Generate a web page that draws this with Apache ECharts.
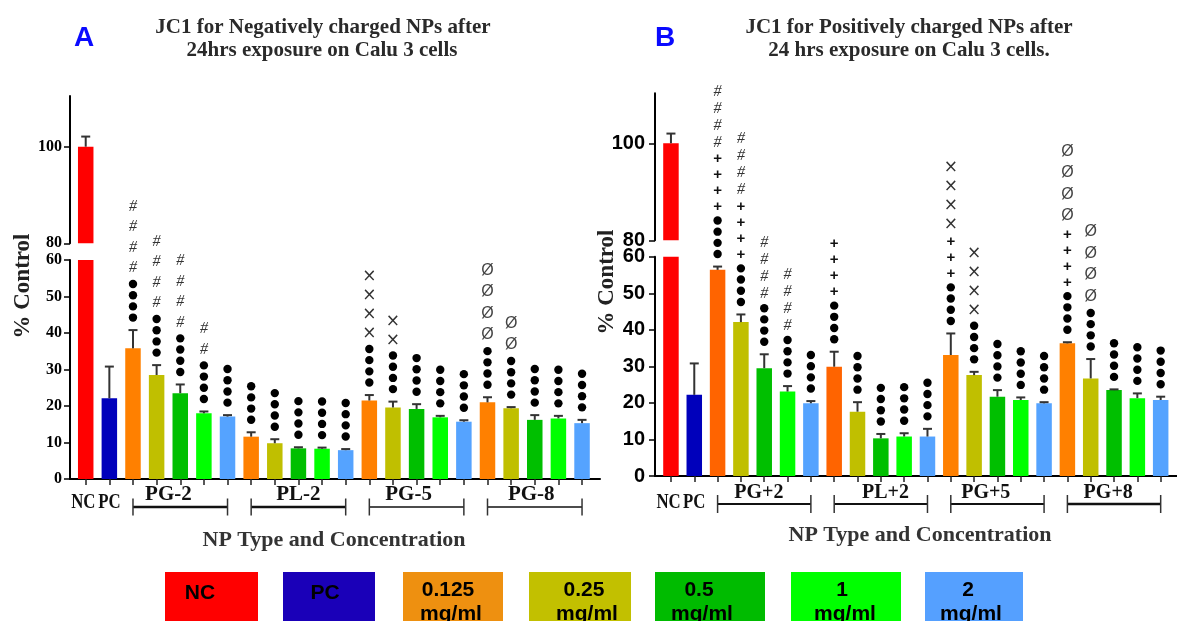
<!DOCTYPE html>
<html><head><meta charset="utf-8">
<script src="https://cdn.jsdelivr.net/npm/echarts@6/dist/echarts.min.js"></script>
<style>html,body{margin:0;padding:0;background:#fff}#c{width:1177px;height:621px}</style>
</head><body><div id="c"></div>
<script>
// ---------------- DATA ----------------
const controlLabels = ['NC', 'PC'];
const concentrations = ['0.125 mg/ml', '0.25 mg/ml', '0.5 mg/ml', '1 mg/ml', '2 mg/ml'];
const groupLabelsA = ['PG-2', 'PL-2', 'PG-5', 'PG-8'];
const groupLabelsB = ['PG+2', 'PL+2', 'PG+5', 'PG+8'];
const titleA = ['JC1 for Negatively charged NPs after', '24hrs exposure on Calu 3 cells'];
const titleB = ['JC1 for Positively charged NPs after', '24 hrs exposure on Calu 3 cells.'];
const xAxisTitle = 'NP Type and Concentration';
const yAxisTitle = '% Control';
const lowerTicks = [0, 10, 20, 30, 40, 50, 60];
const upperTicks = [80, 100];
const legendLabels = ['NC', 'PC', '0.125\nmg/ml', '0.25\nmg/ml', '0.5\nmg/ml', '1\nmg/ml', '2\nmg/ml'];

// Panel A (order: NC, PC, PG-2 x5, PL-2 x5, PG-5 x5, PG-8 x5)
const valuesA = [100, 22.1, 35.8, 28.5, 23.5, 18.0, 17.1, 11.6, 9.8, 8.4, 8.3, 7.9, 21.5, 19.6, 19.2, 16.9, 15.7, 21.0, 19.4, 16.2, 16.6, 15.3];
const errorsA = [2.1, 8.7, 5.0, 2.7, 2.4, 0.5, 0.4, 1.2, 1.1, 0.3, 0.3, 0.3, 1.5, 1.6, 1.3, 0.4, 0.4, 1.4, 0.3, 1.3, 0.7, 0.9];
const dotsA = [0, 0, 4, 4, 4, 4, 4, 4, 4, 4, 4, 4, 4, 4, 4, 4, 4, 4, 4, 4, 4, 4];
const marksA = ['', '', '####', '####', '####', '##', '', '', '', '', '', '', '××××', '××', '', '', '', 'ØØØØ', 'ØØ', '', '', ''];

// Panel B (order: NC, PC, PG+2 x5, PL+2 x5, PG+5 x5, PG+8 x5)
const valuesB = [100, 22.2, 56.4, 42.1, 29.5, 23.1, 19.9, 29.9, 17.6, 10.3, 10.8, 10.8, 33.1, 27.6, 21.7, 20.8, 19.9, 36.3, 26.7, 23.5, 21.3, 20.8];
const errorsB = [2.0, 8.6, 0.9, 2.1, 3.8, 1.5, 0.6, 4.1, 2.6, 1.2, 0.9, 2.1, 5.9, 0.9, 1.8, 0.7, 0.3, 0.3, 5.3, 0.2, 1.3, 0.9];
const dotsB = [0, 0, 4, 4, 4, 4, 4, 4, 4, 4, 4, 4, 4, 4, 4, 4, 4, 4, 4, 4, 4, 4];
const marksB = ['', '', '++++####', '++++####', '####', '####', '', '++++', '', '', '', '', '+++××××', '××××', '', '', '', '++++ØØØØ', 'ØØØØ', '', '', ''];

// ---------------- STYLE / LAYOUT ----------------
const SERIF = '"Liberation Serif","Times New Roman",serif';
const SANS = '"Liberation Sans",Arial,sans-serif';
const NARROW = '"Liberation Sans Narrow","Arial Narrow","Liberation Sans",sans-serif';
const concColorsA = ['#ff8000', '#c0bf00', '#00bf00', '#00ff00', '#55a3ff'];
const concColorsBorange = '#ff6400';
function barColors(isB) {
  const c = ['#ff0000', '#0000bb'];
  for (let g = 0; g < 4; g++) for (let k = 0; k < 5; k++) {
    c.push(k === 0 && isB && g < 2 ? concColorsBorange : concColorsA[k]);
  }
  return c;
}
const legendColors = ['#ff0000', '#1a00b8', '#ee9010', '#c2c000', '#00bb00', '#00ff00', '#55a0ff'];
const legendBoxes = [[165, 258], [283, 375], [403, 503], [529, 631], [655, 765], [791, 901], [925, 1023]];
const legendTextX = [200, 325, 448, 584, 699, 842, 968];

const barIdx = valuesA.map((_, i) => i);

const panels = [
  {
    values: valuesA, errors: errorsA, dots: dotsA, marks: marksA, colors: barColors(false),
    groupLabels: groupLabelsA,
    left: 70, width: 530, xMin: -0.665, xMax: 21.76,
    upperTop: 96, upperH: 147.3, upperMax: 110.5,
    lowerTop: 260, lowerH: 219,
    tickFont: { fontFamily: SERIF, fontWeight: 'bold', fontSize: 16, color: '#000', margin: 8 },
    symH: { dot: 11.2, '#': 20.5, '+': 16, '×': 19, 'Ø': 21.5 },
    bracketDy: 28, bracketEnd: 8.5, bracketW: [2.5, 2.5, 1.5, 1.5],
    labelDy: 16, labelShift: [-0.5, 0, -0.34, -0.15], groupFont: 21,
    ctrlDy: 24, ctrlShift: [-0.1, 0],
  },
  {
    values: valuesB, errors: errorsB, dots: dotsB, marks: marksB, colors: barColors(true),
    groupLabels: groupLabelsB,
    left: 655, width: 529.8, xMin: -0.684, xMax: 21.7,
    upperTop: 93.3, upperH: 147, upperMax: 110.3,
    lowerTop: 256.7, lowerH: 219.3,
    tickFont: { fontFamily: NARROW, fontWeight: 'bold', fontSize: 20, color: '#000', margin: 10 },
    symH: { dot: 11.2, '#': 17, '+': 16, '×': 19, 'Ø': 21.5 },
    bracketDy: 28, bracketEnd: 9, bracketW: [2, 2, 2, 2.5],
    labelDy: 17, labelShift: [-0.23, 0.2, -0.5, -0.25], groupFont: 20,
    ctrlDy: 27, ctrlShift: [-0.1, 0],
  }
];

function drawSym(s, x, y) {
  if (s === 'dot') return { type: 'circle', shape: { cx: x, cy: y, r: 4.2 }, style: { fill: '#000' } };
  const st = { text: s, align: 'center', verticalAlign: 'middle' };
  if (s === '#') Object.assign(st, { fontFamily: SERIF, fontStyle: 'italic', fontSize: 16, fill: '#333' });
  else if (s === '+') Object.assign(st, { fontFamily: SANS, fontWeight: 'bold', fontSize: 15, fill: '#111' });
  else if (s === '×') Object.assign(st, { fontFamily: '"DejaVu Sans",sans-serif', fontSize: 17, fill: '#333' });
  else Object.assign(st, { fontFamily: SANS, fontSize: 16, fill: '#444' });
  return { type: 'text', x: x, y: y, style: st };
}

function annotRenderer(p, part) {
  return function (params, api) {
    const i = api.value(0), v = api.value(1), e = api.value(2);
    if (part === 'lower' && v > 60) return null;
    if (part === 'upper' && v < 80) return null;
    const b = api.coord([i, v]), t = api.coord([i, v + e]);
    const ch = [
      { type: 'line', shape: { x1: b[0], y1: b[1], x2: t[0], y2: t[1] }, style: { stroke: '#333', lineWidth: 2 } },
      { type: 'line', shape: { x1: t[0] - 4.5, y1: t[1], x2: t[0] + 4.5, y2: t[1] }, style: { stroke: '#333', lineWidth: 2 } }
    ];
    const idx = params.dataIndex;
    const seq = [];
    for (let k = 0; k < p.dots[idx]; k++) seq.push('dot');
    for (const c of p.marks[idx]) seq.push(c);
    let y = t[1] - 12.5;
    seq.forEach((s, k) => {
      if (k > 0) y -= (p.symH[seq[k - 1]] + p.symH[s]) / 2;
      ch.push(drawSym(s, t[0], y));
    });
    return { type: 'group', children: ch };
  };
}

function groupRenderer(p) {
  return function (params, api) {
    const k = params.dataIndex;
    const a = api.value(0), bb = api.value(1);
    const s = api.coord([a, 0]), e = api.coord([bb, 0]);
    const y = s[1] + p.bracketDy;
    const lx = api.coord([(a + bb) / 2 + p.labelShift[k], 0])[0];
    return {
      type: 'group', children: [
        { type: 'line', shape: { x1: s[0], y1: y, x2: e[0], y2: y }, style: { stroke: '#111', lineWidth: p.bracketW[k] } },
        { type: 'line', shape: { x1: s[0], y1: y - p.bracketEnd, x2: s[0], y2: y + p.bracketEnd }, style: { stroke: '#333', lineWidth: 1.5 } },
        { type: 'line', shape: { x1: e[0], y1: y - p.bracketEnd, x2: e[0], y2: y + p.bracketEnd }, style: { stroke: '#333', lineWidth: 1.5 } },
        { type: 'text', x: lx, y: s[1] + p.labelDy, style: { text: p.groupLabels[k], fontFamily: SERIF, fontWeight: 'bold', fontSize: p.groupFont, fill: '#111', align: 'center', verticalAlign: 'middle' } }
      ]
    };
  };
}

function ctrlRenderer(p) {
  return function (params, api) {
    const i = params.dataIndex;
    const c = api.coord([api.value(0) + p.ctrlShift[i], 0]);
    return { type: 'text', x: c[0], y: c[1] + p.ctrlDy, scaleX: 0.8,
      style: { text: controlLabels[i], fontFamily: SERIF, fontWeight: 'bold', fontSize: 21, fill: '#111', align: 'center', verticalAlign: 'middle' } };
  };
}

const option = { animation: false, grid: [], xAxis: [], yAxis: [], series: [], graphic: [] };

panels.forEach((p, pi) => {
  const gi = pi * 2;
  option.grid.push(
    { left: p.left, top: p.upperTop, width: p.width, height: p.upperH },
    { left: p.left, top: p.lowerTop, width: p.width, height: p.lowerH }
  );
  option.xAxis.push(
    { type: 'value', gridIndex: gi, min: p.xMin, max: p.xMax, show: false },
    { type: 'value', gridIndex: gi + 1, min: p.xMin, max: p.xMax,
      axisLine: { show: true, onZero: false, lineStyle: { color: '#000', width: 2 } },
      axisTick: { show: true, customValues: barIdx, length: 6, lineStyle: { color: '#222', width: 1.5 } },
      axisLabel: { show: false }, splitLine: { show: false } }
  );
  option.yAxis.push(
    { type: 'value', gridIndex: gi, min: 80, max: p.upperMax,
      axisLine: { show: true, onZero: false, lineStyle: { color: '#000', width: 2 } },
      axisTick: { show: true, customValues: upperTicks, length: 6, lineStyle: { color: '#000', width: 1.5 } },
      axisLabel: Object.assign({ customValues: upperTicks }, p.tickFont), splitLine: { show: false } },
    { type: 'value', gridIndex: gi + 1, min: 0, max: 60,
      axisLine: { show: true, onZero: false, lineStyle: { color: '#000', width: 2 } },
      axisTick: { show: true, customValues: lowerTicks, length: 6, lineStyle: { color: '#000', width: 1.5 } },
      axisLabel: Object.assign({ customValues: lowerTicks }, p.tickFont), splitLine: { show: false } }
  );
  const barData = p.values.map((v, i) => ({ value: [i, v], itemStyle: { color: p.colors[i] } }));
  const errData = p.values.map((v, i) => [i, v, p.errors[i]]);
  const grpData = p.groupLabels.map((g, k) => [2 + 5 * k, 6 + 5 * k]);
  option.series.push(
    { type: 'bar', xAxisIndex: gi, yAxisIndex: gi, data: barData, barWidth: 15.5, clip: true, silent: true },
    { type: 'bar', xAxisIndex: gi + 1, yAxisIndex: gi + 1, data: barData, barWidth: 15.5, clip: true, silent: true },
    { type: 'custom', xAxisIndex: gi, yAxisIndex: gi, data: errData, renderItem: annotRenderer(p, 'upper'), z: 5, silent: true },
    { type: 'custom', xAxisIndex: gi + 1, yAxisIndex: gi + 1, data: errData, renderItem: annotRenderer(p, 'lower'), z: 5, silent: true },
    { type: 'custom', xAxisIndex: gi + 1, yAxisIndex: gi + 1, data: grpData, renderItem: groupRenderer(p), z: 5, silent: true },
    { type: 'custom', xAxisIndex: gi + 1, yAxisIndex: gi + 1, data: [[0, 0], [1, 0]], renderItem: ctrlRenderer(p), z: 5, silent: true }
  );
});

function txt(text, x, y, extra, style) {
  return Object.assign({ type: 'text', x: x, y: y, silent: true,
    style: Object.assign({ text: text, align: 'center', verticalAlign: 'middle', textAlign: 'center', textVerticalAlign: 'middle' }, style) }, extra || {});
}
const titleStyle = { fontFamily: SERIF, fontWeight: 'bold', fontSize: 21, fill: '#2a2a2a' };
option.graphic.push(
  txt('A', 84, 38, null, { fontFamily: SANS, fontWeight: 'bold', fontSize: 28, fill: '#0a0aff' }),
  txt('B', 665, 38, null, { fontFamily: SANS, fontWeight: 'bold', fontSize: 28, fill: '#0a0aff' }),
  txt(titleA[0], 323, 28, null, titleStyle),
  txt(titleA[1], 322, 51, null, titleStyle),
  txt(titleB[0], 909, 28, null, titleStyle),
  txt(titleB[1], 909, 51, null, titleStyle),
  txt(yAxisTitle, 23, 286, { rotation: Math.PI / 2 }, { fontFamily: SERIF, fontWeight: 'bold', fontSize: 23, fill: '#222' }),
  txt(yAxisTitle, 607, 282, { rotation: Math.PI / 2 }, { fontFamily: SERIF, fontWeight: 'bold', fontSize: 23, fill: '#222' }),
  txt(xAxisTitle, 334, 540, null, { fontFamily: SERIF, fontWeight: 'bold', fontSize: 22, fill: '#333' }),
  txt(xAxisTitle, 920, 535, null, { fontFamily: SERIF, fontWeight: 'bold', fontSize: 22, fill: '#333' })
);
legendLabels.forEach((lab, i) => {
  const [x0, x1] = legendBoxes[i];
  option.graphic.push({ type: 'rect', shape: { x: x0, y: 572, width: x1 - x0, height: 60 }, style: { fill: legendColors[i] }, silent: true });
  const lines = lab.split('\n');
  const st = { fontFamily: SANS, fontWeight: 'bold', fontSize: 21, fill: '#000' };
  if (lines.length === 1) {
    option.graphic.push(txt(lines[0], legendTextX[i], 593, null, st));
  } else {
    option.graphic.push(txt(lines[0], legendTextX[i], 590, null, st));
    option.graphic.push(txt(lines[1], legendTextX[i] + 3, 614, null, st));
  }
});

const chart = echarts.init(document.getElementById('c'), null, { renderer: 'canvas' });
chart.setOption(option);
</script>
</body></html>
